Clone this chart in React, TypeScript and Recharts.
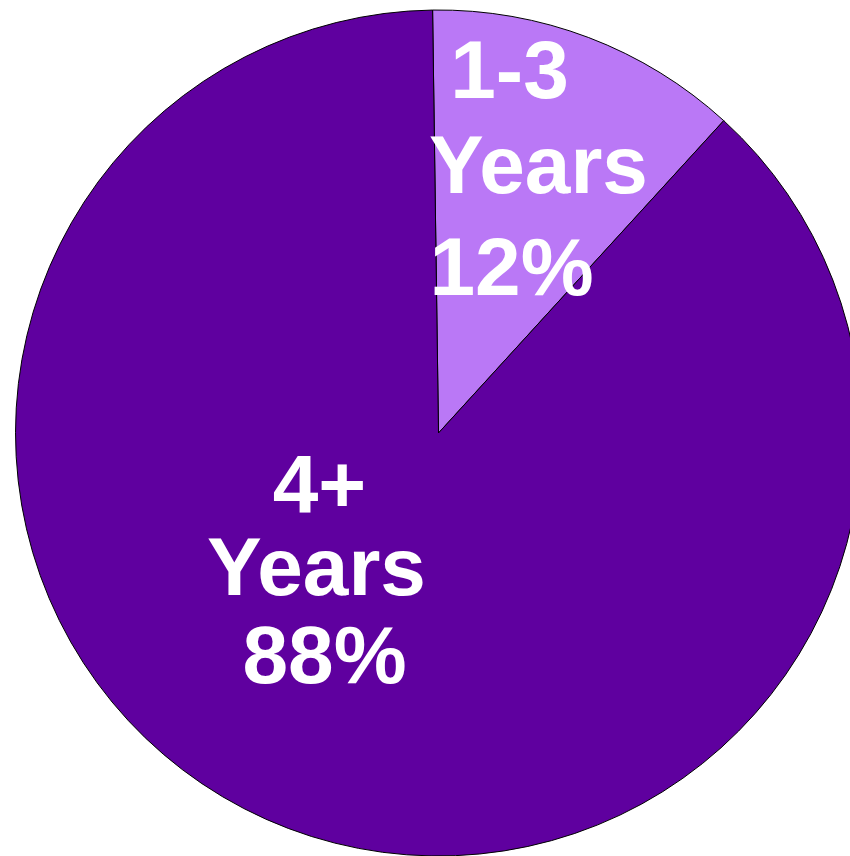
import React from "react";
import { PieChart, Pie, Cell } from "recharts";

const categories = ["1-3 Years", "4+ Years"];
const values = [12, 88];
const labelLines = [
  ["1-3", "Years", "12%"],
  ["4+", "Years", "88%"],
];
const colors = ["#BA78F6", "#5F009F"];

const data = categories.map((name, i) => ({ name, value: values[i] }));

// per-line offsets of label text relative to the pie centre
const lineOffsets = [
  [
    [71, -335],
    [100, -240],
    [73, -138],
  ],
  [
    [-119, 79],
    [-122, 162],
    [-114, 250],
  ],
];

const renderLabel = (props: any) => {
  const { cx, cy, index } = props;
  const lines = labelLines[index];
  return (
    <g>
      {lines.map((t: string, j: number) => (
        <text
          key={j}
          x={cx + lineOffsets[index][j][0]}
          y={cy + lineOffsets[index][j][1]}
          textAnchor="middle"
          fill="#FFFFFF"
          fontFamily="'Liberation Sans', Arial, sans-serif"
          fontWeight="bold"
          fontSize={82}
        >
          {t}
        </text>
      ))}
    </g>
  );
};

export default function App() {
  return (
    <div
      style={{
        position: "absolute",
        left: 0,
        top: 0,
        width: 850,
        height: 856,
        overflow: "hidden",
        background: "#FFFFFF",
      }}
    >
      <style>{"html,body{overflow:hidden;}"}</style>
      <PieChart width={850} height={856} margin={{ top: 0, right: 0, bottom: 0, left: 0 }}>
        <Pie
          data={data}
          dataKey="value"
          nameKey="name"
          cx={438.5}
          cy={433}
          outerRadius={423}
          startAngle={90.8}
          endAngle={-269.2}
          stroke="#000000"
          strokeWidth={1}
          label={renderLabel}
          labelLine={false}
          isAnimationActive={false}
        >
          {data.map((d, i) => (
            <Cell key={d.name} fill={colors[i]} />
          ))}
        </Pie>
      </PieChart>
    </div>
  );
}
